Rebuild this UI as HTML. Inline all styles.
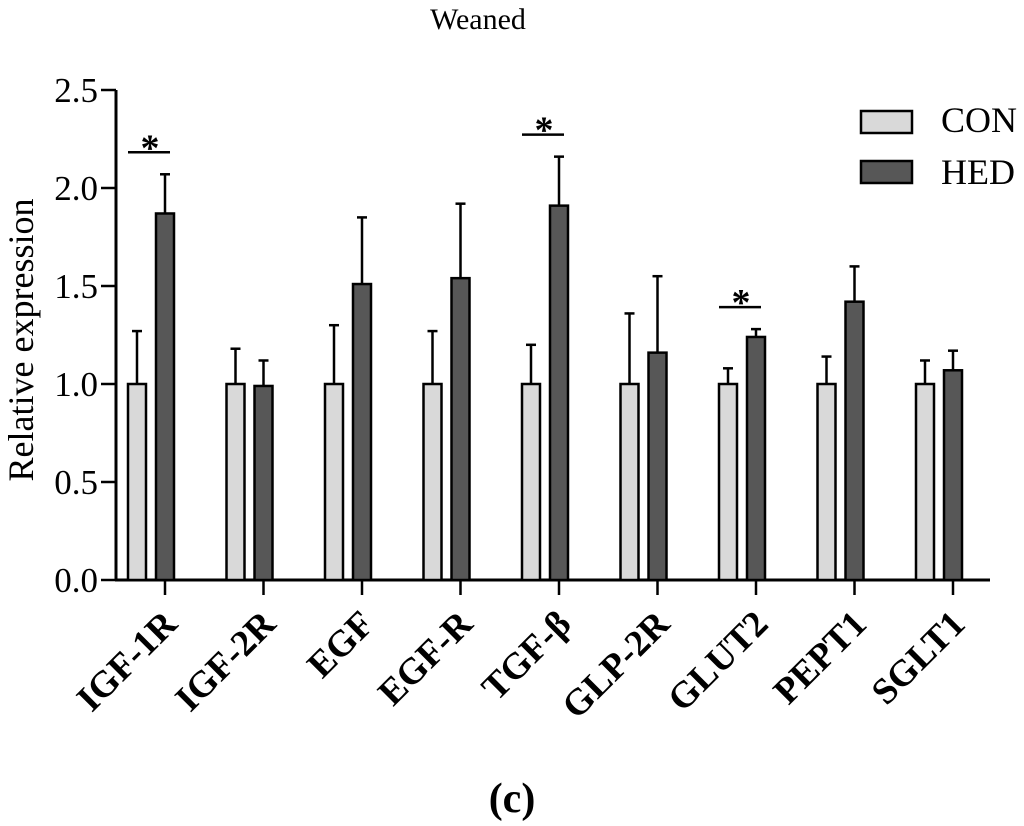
<!DOCTYPE html>
<html><head><meta charset="utf-8"><style>body{margin:0;background:#fff}svg{display:block}</style></head>
<body>
<svg id="chart" width="1024" height="826" xmlns="http://www.w3.org/2000/svg" font-family="Liberation Serif, serif">
<text x="478" y="29" font-size="30" text-anchor="middle">Weaned</text>
<text transform="translate(33,340) rotate(-90)" font-size="36" text-anchor="middle">Relative expression</text>
<text x="512" y="812" font-size="42" font-weight="bold" text-anchor="middle">(c)</text>
<g id="legend">
<rect x="861" y="111" width="51" height="22" fill="#d9d9d9" stroke="#000" stroke-width="2.5"/>
<text x="941" y="132" font-size="36">CON</text>
<rect x="861" y="161" width="51" height="22" fill="#575757" stroke="#000" stroke-width="2.5"/>
<text x="941" y="184" font-size="36">HED</text>
</g>
</svg>
<script>
const categories=["IGF-1R","IGF-2R","EGF","EGF-R","TGF-β","GLP-2R","GLUT2","PEPT1","SGLT1"];
const conValues=[1,1,1,1,1,1,1,1,1];
const conErr=[1.27,1.18,1.30,1.27,1.20,1.36,1.08,1.14,1.12];
const hedValues=[1.87,0.99,1.51,1.54,1.91,1.16,1.24,1.42,1.07];
const hedErr=[2.07,1.12,1.85,1.92,2.16,1.55,1.28,1.60,1.17];
const yTicks=["0.0","0.5","1.0","1.5","2.0","2.5"];
const sigIdx=[0,4,6];
const svg=document.getElementById('chart');
const NS='http://www.w3.org/2000/svg';
const y=v=>580-v*196;
const xc=i=>137+i*98.5;
function mk(t,a,p){const e=document.createElementNS(NS,t);for(const k in a)e.setAttribute(k,a[k]);(p||svg).appendChild(e);return e;}
let ax=mk('line',{x1:115,y1:y(0),x2:990,y2:y(0),stroke:'#000','stroke-width':3});


let ay=mk('line',{x1:116,y1:y(0)+1,x2:116,y2:y(2.5),stroke:'#000','stroke-width':3});


yTicks.forEach(t=>{const v=parseFloat(t);
 let l=mk('line',{x1:101,y1:y(v),x2:116,y2:y(v),stroke:'#000','stroke-width':2.5});
 
 
 let tx=mk('text',{x:98,y:y(v)+12,'font-size':35,'text-anchor':'end'});tx.textContent=t;
 
 
});
function bar(cx,v,e,fill,name){
 let er=mk('line',{x1:cx,y1:y(v),x2:cx,y2:y(e),stroke:'#000','stroke-width':2.5});
 
 
 let cap=mk('line',{x1:cx-5,y1:y(e),x2:cx+5,y2:y(e),stroke:'#000','stroke-width':2.5});
 
 
 let r=mk('rect',{x:cx-9,y:y(v),width:18,height:y(0)-y(v),fill:fill,stroke:'#000','stroke-width':2.5});
 
 
}
categories.forEach((c,i)=>{
 bar(xc(i),conValues[i],conErr[i],'#d9d9d9','bar-con-'+i);
 bar(xc(i)+28,hedValues[i],hedErr[i],'#575757','bar-hed-'+i);
 let tk=mk('line',{x1:xc(i)+28,y1:y(0),x2:xc(i)+28,y2:y(0)+15,stroke:'#000','stroke-width':2.5});
 
 
 let t=mk('text',{transform:`translate(${xc(i)+42},${y(0)+46}) rotate(-45)`,'font-size':37,'font-weight':'bold','text-anchor':'end'});
 t.textContent=c;
 
 
});
sigIdx.forEach(i=>{
 const ly=y(Math.max(hedErr[i],conErr[i]))-22;
 let l=mk('line',{x1:xc(i)-9,y1:ly,x2:xc(i)+33,y2:ly,stroke:'#000','stroke-width':2.5});
 
 
 let s=mk('text',{x:xc(i)+13,y:ly+8,'font-size':38,'font-weight':'bold','text-anchor':'middle'});s.textContent='*';
 
 
});
</script>
</body></html>
